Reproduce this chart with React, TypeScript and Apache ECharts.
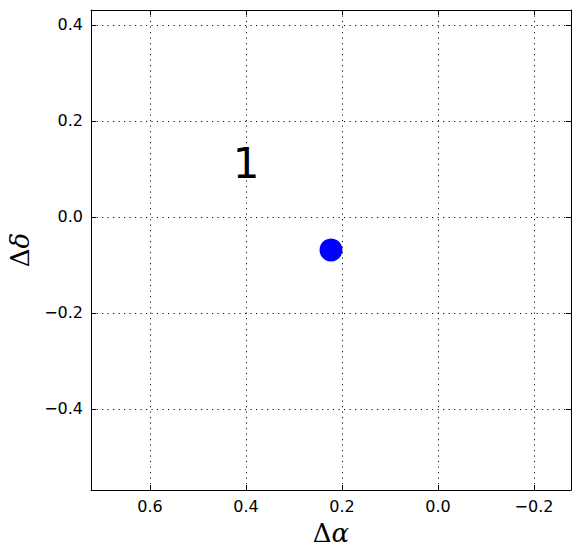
import React, { useEffect, useRef } from "react";
import * as echarts from "echarts";

const xRange = [-0.277, 0.723];
const yRange = [-0.569, 0.431];
const tickStep = 0.2;
const pointX = [0.223];
const pointY = [-0.069];
const labelText = ["1"];
const labelX = [0.4];
const labelY = [0.112];

const fmt = (v: number) => {
  const r = Math.round(v / tickStep) * tickStep;
  if (Math.abs(r - v) > 1e-6) return "";
  return r.toFixed(1).replace("-", "\u2212").replace("\u22120.0", "0.0");
};

export default function App() {
  const ref = useRef<HTMLDivElement>(null);
  useEffect(() => {
    if (!ref.current) return;
    const chart = echarts.init(ref.current, undefined, { renderer: "svg" });
    const font = "'DejaVu Sans', sans-serif";
    const serif = "'DejaVu Serif', serif";
    const gridLine = { show: true, lineStyle: { color: "#111", type: [1.2, 4.3], width: 1 } };
    const baseX = {
      type: "value",
      min: xRange[0],
      max: xRange[1],
      inverse: true,
      minInterval: tickStep,
      maxInterval: tickStep,
      axisLine: { show: true, onZero: false, lineStyle: { color: "#000", width: 1 } },
      axisTick: { show: true, inside: true, length: 5, lineStyle: { color: "#000" } },
    };
    const baseY = {
      type: "value",
      min: yRange[0],
      max: yRange[1],
      minInterval: tickStep,
      maxInterval: tickStep,
      axisLine: { show: true, onZero: false, lineStyle: { color: "#000", width: 1 } },
      axisTick: { show: true, inside: true, length: 5, lineStyle: { color: "#000" } },
    };
    const labelStyle = {
      show: true,
      formatter: fmt,
      color: "#000",
      fontFamily: font,
      fontSize: 16,
      margin: 8,
      showMinLabel: false,
      showMaxLabel: false,
    };
    const nameRich = {
      rich: {
        d: { fontFamily: serif, fontSize: 26, color: "#000" },
        i: { fontFamily: serif, fontStyle: "italic", fontSize: 26, color: "#000" },
      },
    };
    chart.setOption({
      animation: false,
      backgroundColor: "#fff",
      grid: {
        left: 91,
        top: 10,
        width: 480,
        height: 480,
        containLabel: false,
        outerBoundsMode: "none",
      },
      xAxis: [
        {
          ...baseX,
          position: "bottom",
          axisLabel: labelStyle,
          splitLine: gridLine,
          name: "{d|\u0394}{i|\u03b1}",
          nameLocation: "middle",
          nameGap: 30,
          nameTextStyle: nameRich,
        },
        {
          ...baseX,
          position: "top",
          axisLabel: { show: false },
          splitLine: { show: false },
        },
      ],
      yAxis: [
        {
          ...baseY,
          position: "left",
          axisLabel: labelStyle,
          splitLine: gridLine,
          name: "{d|\u0394}{i|\u03b4}",
          nameLocation: "middle",
          nameGap: 56,
          nameRotate: 90,
          nameTextStyle: nameRich,
        },
        {
          ...baseY,
          position: "right",
          axisLabel: { show: false },
          splitLine: { show: false },
        },
      ],
      series: [
        {
          type: "scatter",
          xAxisIndex: 0,
          yAxisIndex: 0,
          symbol: "circle",
          symbolSize: 23,
          itemStyle: { color: "#0000ff", opacity: 1 },
          data: pointX.map((x, i) => [x, pointY[i]]),
          z: 5,
        },
        {
          type: "scatter",
          xAxisIndex: 0,
          yAxisIndex: 0,
          symbolSize: 0,
          itemStyle: { color: "#000" },
          label: {
            show: true,
            position: "inside",
            formatter: (p: any) => labelText[p.dataIndex],
            color: "#000",
            opacity: 1,
            textBorderWidth: 0,
            fontFamily: font,
            fontSize: 42,
          },
          data: labelX.map((x, i) => [x, labelY[i]]),
          z: 6,
        },
      ],
    });
    return () => chart.dispose();
  }, []);
  return (
    <div
      ref={ref}
      style={{ position: "absolute", left: 0, top: 0, width: 580, height: 558 }}
    />
  );
}
